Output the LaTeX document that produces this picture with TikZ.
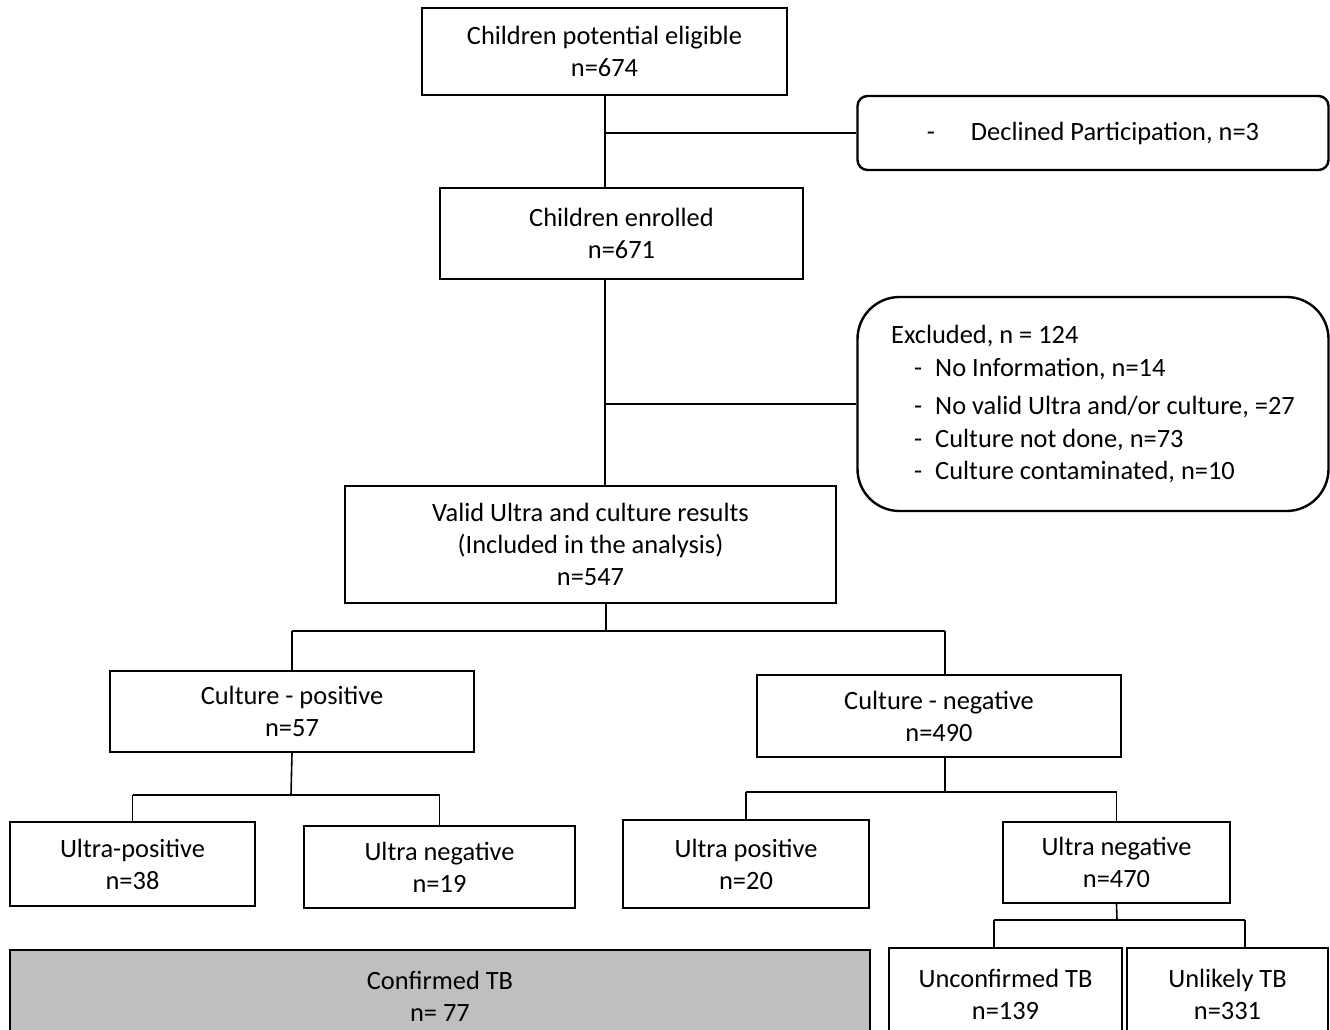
\documentclass[tikz,border=0pt]{standalone}
\usepackage{fontspec}
\setmainfont{Carlito}

\begin{document}
\begin{tikzpicture}[x=1pt,y=-1pt,
        every node/.style={font=\fontsize{26.4}{32}\selectfont},
        box/.style={draw,line width=2.4pt,inner sep=0pt,align=center},
        roundbox/.style={draw,line width=2.4pt,inner sep=0pt},
        link/.style={line width=1.6pt}]
            \clip (0,0) rectangle (1330,1030);

            \node[box,minimum width=365,minimum height=87] (elig) at (604.5,51.5) {Children potential eligible\\n=674};
            \node[roundbox,rounded corners=10pt,minimum width=471,minimum height=74] (declined) at (1093,133)
                {-\hspace{36pt}Declined Participation, n=3};
            \node[box,minimum width=363,minimum height=91] (enrol) at (621.5,233.5) {Children enrolled\\n=671};
            \node[roundbox,rounded corners=42pt,minimum width=471,minimum height=214,
                  align=left] (excluded) at (1093,404)
                {Excluded, n = 124\\[1pt]
                 \hspace*{23pt}-\hspace{13pt}No Information, n=14\\[6pt]
                 \hspace*{23pt}-\hspace{13pt}No valid Ultra and/or culture, =27\\[1pt]
                 \hspace*{23pt}-\hspace{13pt}Culture not done, n=73\\
                 \hspace*{23pt}-\hspace{13pt}Culture contaminated, n=10};
            \node[box,minimum width=491,minimum height=117] (valid) at (590.5,544.5)
                {Valid Ultra and culture results\\ (Included in the analysis)\\n=547};

            \node[box,minimum width=364,minimum height=81] (cpos) at (292,711.5) {Culture - positive\\n=57};
            \node[box,minimum width=364,minimum height=82] (cneg) at (939,716) {Culture - negative\\n=490};

            \node[box,minimum width=245,minimum height=84] (upos38) at (132.5,864) {Ultra-positive\\n=38};
            \node[box,minimum width=271,minimum height=82] (uneg19) at (439.5,867) {Ultra negative\\n=19};
            \node[box,minimum width=246,minimum height=88] (upos20) at (746,864) {Ultra positive\\n=20};
            \node[box,minimum width=227,minimum height=81] (uneg470) at (1116.5,862.5) {Ultra negative\\n=470};

            \node[box,fill=black!25,minimum width=860,minimum height=92] (confirmed) at (440,996) {Confirmed TB\\n= 77};
            \node[box,minimum width=233,minimum height=92] (unconf) at (1005.5,994) {Unconfirmed TB\\n=139};
            \node[box,minimum width=201,minimum height=92] (unlikely) at (1227.5,994) {Unlikely TB\\n=331};

            % spine
            \coordinate (spine) at (605,0);
            \draw[link] (elig.south -| spine) -- (enrol.north -| spine);
            \draw[link] (declined.west -| spine) -- (declined.west);
            \draw[link] (enrol.south -| spine) -- (valid.north -| spine);
            \draw[link] (excluded.west -| spine) -- (excluded.west);

            % culture split
            \coordinate (busA) at (606,631);
            \coordinate (tapneg) at (945,631);
            \draw[link] (valid.south -| busA) -- (busA);
            \draw[link] (busA -| cpos.north) -- (tapneg);
            \draw[link] (busA -| cpos.north) -- (cpos.north);
            \draw[link] (tapneg) -- (tapneg |- cneg.north);

            % ultra split, positive side
            \coordinate (busB) at (291,795);
            \draw[link] (cpos.south) -- (busB);
            \draw[link] (busB -| upos38.north) -- (busB -| uneg19.north);
            \draw[link] (busB -| upos38.north) -- (upos38.north);
            \draw[link] (busB -| uneg19.north) -- (uneg19.north);

            % ultra split, negative side
            \coordinate (busC) at (945,792);
            \draw[link] (tapneg |- cneg.south) -- (busC);
            \draw[link] (busC -| upos20.north) -- (busC -| uneg470.north);
            \draw[link] (busC -| upos20.north) -- (upos20.north);
            \draw[link] (busC -| uneg470.north) -- (uneg470.north);

            % clinical split
            \coordinate (busD) at (1117,920);
            \coordinate (tapunc) at (994,920);
            \coordinate (tapunl) at (1245,920);
            \draw[link] (uneg470.south) -- (busD);
            \draw[link] (tapunc) -- (tapunl);
            \draw[link] (tapunc) -- (tapunc |- unconf.north);
            \draw[link] (tapunl) -- (tapunl |- unlikely.north);
\end{tikzpicture}
\end{document}
